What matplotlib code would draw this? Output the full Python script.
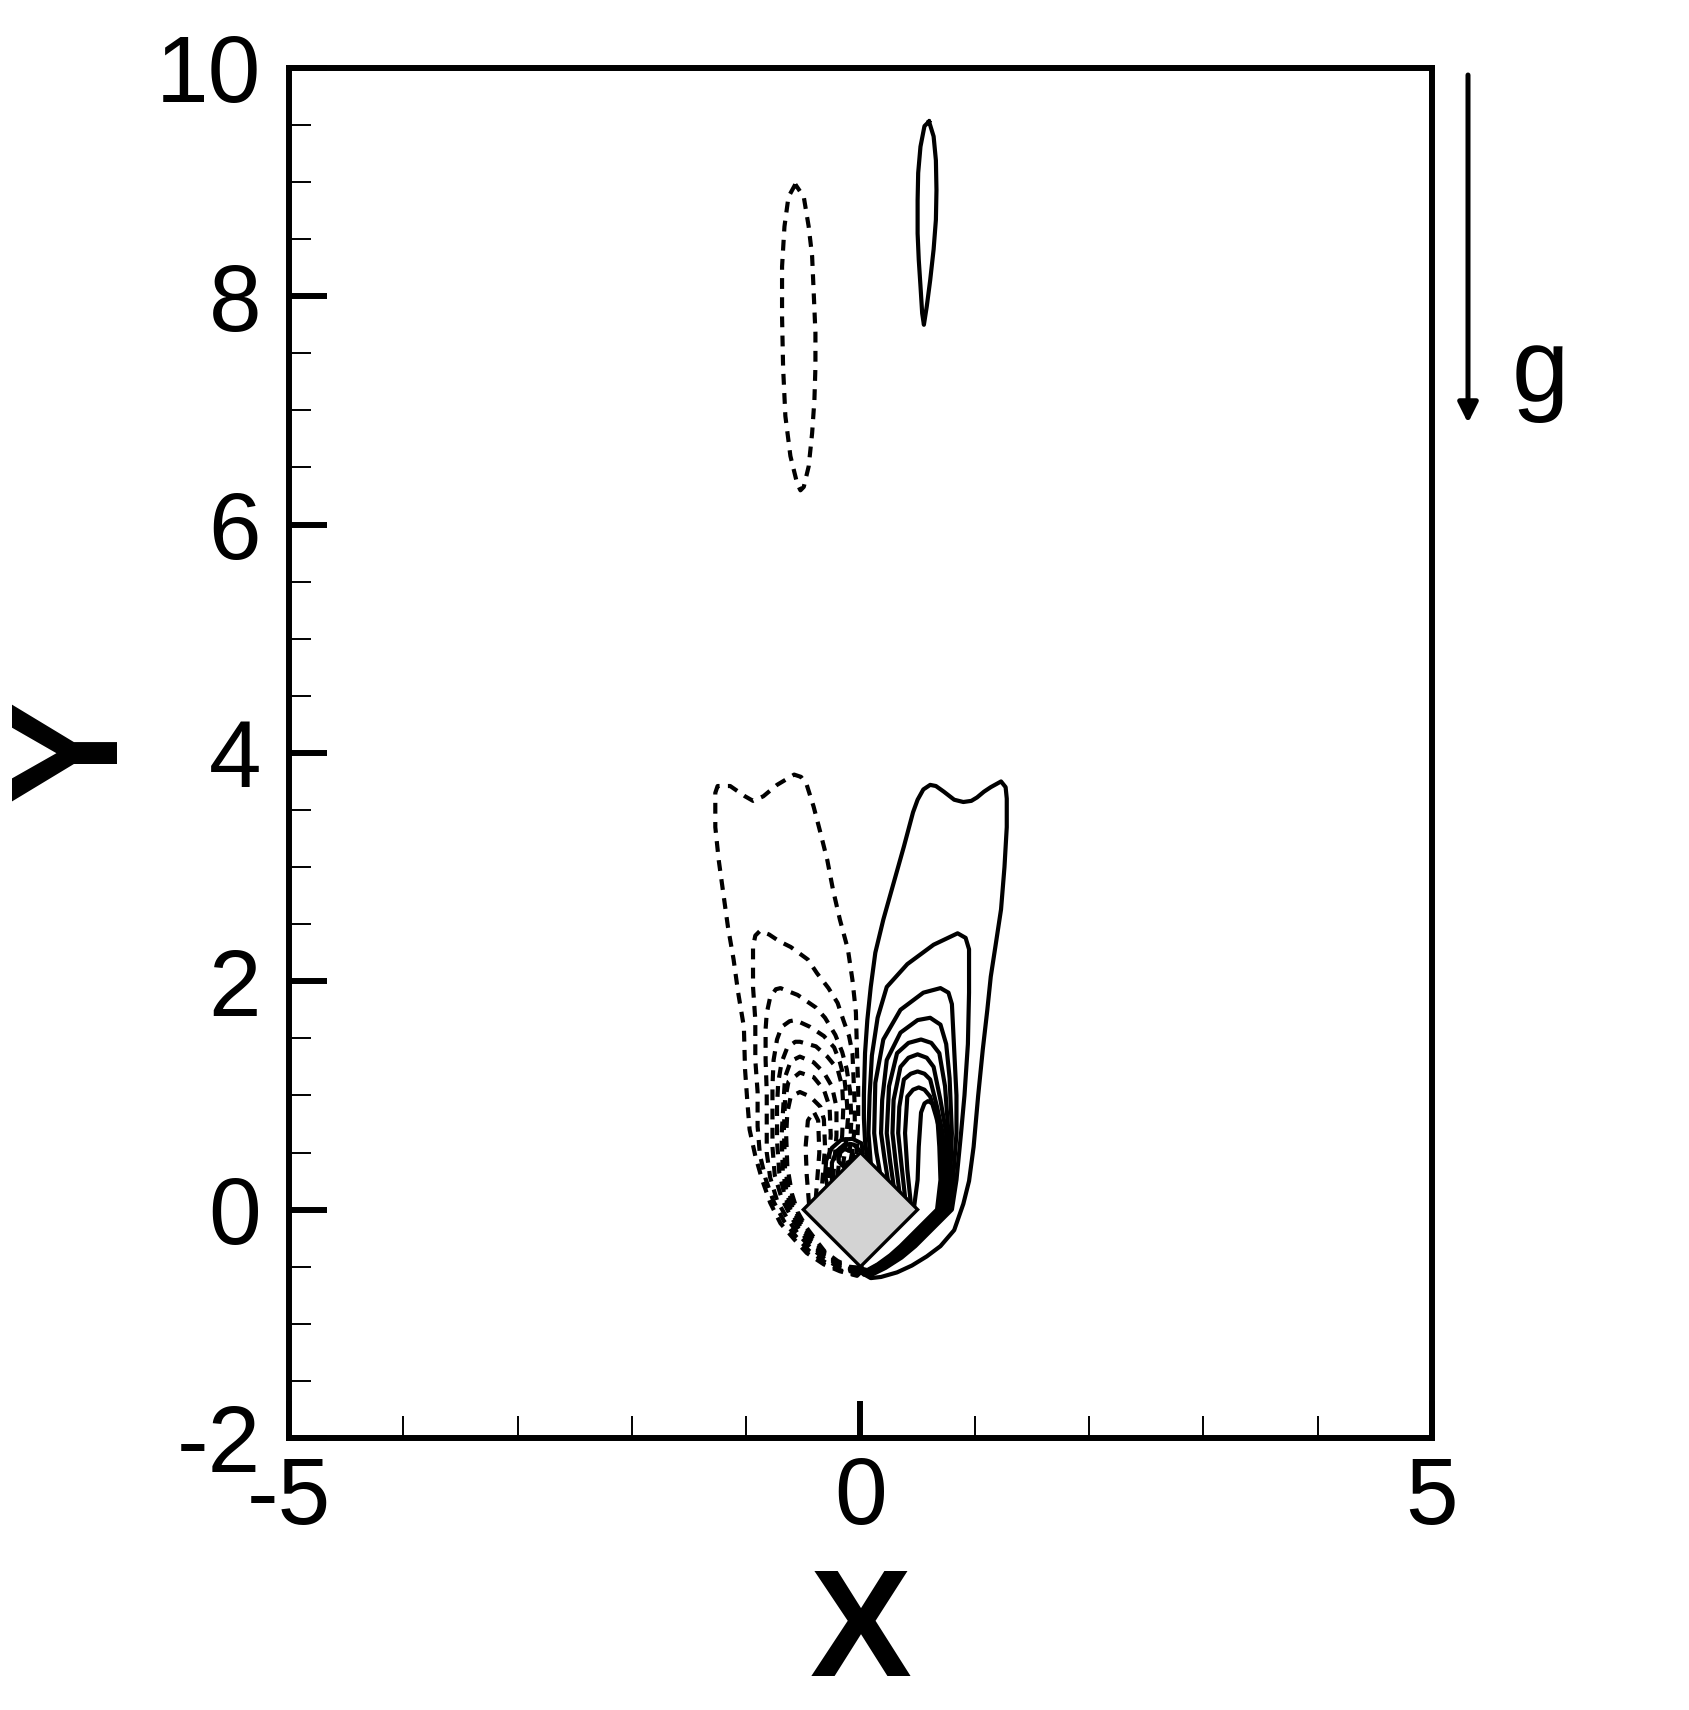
import matplotlib
matplotlib.use('Agg')
import matplotlib.pyplot as plt
from matplotlib.patches import Polygon
from matplotlib.ticker import MultipleLocator
import numpy as np

plt.rcParams['font.family'] = ['Liberation Sans', 'DejaVu Sans']
plt.rcParams['axes.unicode_minus'] = False

################## Contour lines (x, y) ########################################

# positive vorticity (solid lines)
solid_top = [(0.60, 9.53), (0.64, 9.40), (0.66, 9.19), (0.665, 8.93), (0.66, 8.67),
             (0.64, 8.41), (0.61, 8.14), (0.58, 7.91), (0.555, 7.75), (0.54, 7.85),
             (0.525, 8.09), (0.51, 8.32), (0.50, 8.55), (0.50, 8.84), (0.505, 9.08),
             (0.525, 9.31), (0.56, 9.49), (0.60, 9.53)]

solid_1 = [(0.06, 0.44), (0.04, 0.60), (0.03, 0.80), (0.03, 1.00), (0.04, 1.37), (0.06, 1.66),
           (0.09, 1.95), (0.13, 2.25), (0.20, 2.54), (0.29, 2.86), (0.38, 3.18), (0.46, 3.48),
           (0.50, 3.59), (0.55, 3.68), (0.61, 3.72), (0.66, 3.71), (0.73, 3.66), (0.82, 3.59),
           (0.90, 3.57), (0.97, 3.58), (1.02, 3.61), (1.08, 3.66), (1.14, 3.70), (1.23, 3.75),
           (1.27, 3.70), (1.28, 3.60), (1.28, 3.35), (1.26, 3.00), (1.23, 2.63), (1.18, 2.30),
           (1.14, 2.04), (1.11, 1.75), (1.07, 1.40), (1.03, 1.00), (0.99, 0.55), (0.95, 0.25),
           (0.90, 0.05), (0.82, -0.18), (0.70, -0.32), (0.58, -0.41), (0.45, -0.49),
           (0.32, -0.55), (0.18, -0.59), (0.09, -0.60), (0.02, -0.56)]

solid_2 = [(0.09, 0.41), (0.07, 0.67), (0.08, 1.00), (0.10, 1.35), (0.15, 1.68), (0.23, 1.95),
           (0.41, 2.15), (0.64, 2.32), (0.85, 2.42), (0.92, 2.38), (0.95, 2.28), (0.95, 1.90),
           (0.94, 1.45), (0.91, 1.00), (0.88, 0.67), (0.84, 0.26), (0.80, 0.0), (0.60, -0.20),
           (0.48, -0.32), (0.36, -0.42), (0.22, -0.51), (0.10, -0.57), (0.03, -0.57), (0.01, -0.53)]

solid_3 = [(0.17, 0.33), (0.14, 0.50), (0.12, 0.67), (0.13, 1.11), (0.20, 1.49), (0.35, 1.75),
           (0.55, 1.90), (0.70, 1.94), (0.77, 1.90), (0.80, 1.80), (0.82, 1.40), (0.84, 1.00),
           (0.84, 0.67), (0.81, 0.26), (0.77, 0.0), (0.57, -0.20), (0.45, -0.32), (0.34, -0.42),
           (0.21, -0.51), (0.09, -0.56), (0.03, -0.56), (0.01, -0.53)]

solid_4 = [(0.24, 0.26), (0.21, 0.45), (0.18, 0.67), (0.19, 0.96), (0.23, 1.31), (0.35, 1.55),
           (0.50, 1.66), (0.61, 1.68), (0.70, 1.62), (0.75, 1.45), (0.78, 1.15), (0.80, 0.67),
           (0.785, 0.26), (0.75, 0.0), (0.55, -0.20), (0.43, -0.32), (0.32, -0.42), (0.20, -0.50),
           (0.09, -0.55), (0.03, -0.55), (0.01, -0.52)]

solid_5 = [(0.29, 0.21), (0.26, 0.42), (0.23, 0.67), (0.25, 1.08), (0.32, 1.37), (0.42, 1.46),
           (0.53, 1.49), (0.62, 1.46), (0.69, 1.37), (0.74, 1.08), (0.77, 0.67), (0.77, 0.26),
           (0.735, 0.0), (0.535, -0.20), (0.415, -0.32), (0.31, -0.42), (0.19, -0.50),
           (0.08, -0.55), (0.02, -0.55), (0.01, -0.52)]

solid_6 = [(0.34, 0.16), (0.31, 0.40), (0.28, 0.67), (0.29, 0.96), (0.35, 1.25), (0.42, 1.33),
           (0.50, 1.36), (0.58, 1.33), (0.64, 1.25), (0.70, 0.96), (0.75, 0.67), (0.755, 0.26),
           (0.72, 0.0), (0.52, -0.20), (0.40, -0.32), (0.30, -0.41), (0.18, -0.49),
           (0.08, -0.54), (0.02, -0.54), (0.01, -0.52)]

solid_7 = [(0.39, 0.11), (0.36, 0.38), (0.33, 0.67), (0.34, 0.90), (0.38, 1.14), (0.44, 1.19),
           (0.50, 1.21), (0.56, 1.19), (0.61, 1.14), (0.67, 0.90), (0.72, 0.67), (0.74, 0.26),
           (0.705, 0.0), (0.505, -0.20), (0.385, -0.32), (0.29, -0.41), (0.17, -0.49),
           (0.07, -0.54), (0.02, -0.54), (0.01, -0.51)]

solid_8 = [(0.44, 0.06), (0.41, 0.35), (0.39, 0.67), (0.41, 0.99), (0.46, 1.05), (0.51, 1.07),
           (0.56, 1.05), (0.61, 0.99), (0.66, 0.82), (0.70, 0.67), (0.725, 0.26), (0.69, 0.0),
           (0.49, -0.20), (0.37, -0.32), (0.28, -0.40), (0.16, -0.48), (0.07, -0.53),
           (0.02, -0.53), (0.01, -0.51)]

solid_9 = [(0.47, 0.03), (0.50, 0.26), (0.51, 0.55), (0.53, 0.85), (0.56, 0.93), (0.59, 0.95),
           (0.63, 0.93), (0.67, 0.85), (0.69, 0.55), (0.70, 0.26), (0.67, 0.0), (0.47, -0.20),
           (0.35, -0.32), (0.26, -0.40), (0.15, -0.48), (0.06, -0.53), (0.02, -0.52), (0.01, -0.51)]

solid_arc_1 = [(0.02, 0.50), (0.01, 0.58), (-0.07, 0.62), (-0.17, 0.61), (-0.25, 0.54),
               (-0.30, 0.43), (-0.31, 0.30), (-0.29, 0.21)]
solid_arc_2 = [(0.00, 0.51), (-0.06, 0.57), (-0.14, 0.57), (-0.21, 0.51), (-0.25, 0.41),
               (-0.25, 0.25)]
solid_arc_3 = [(-0.05, 0.45), (-0.08, 0.51), (-0.14, 0.53), (-0.19, 0.49), (-0.19, 0.42),
               (-0.14, 0.37), (-0.10, 0.42), (-0.05, 0.45)]

# negative vorticity (dashed lines)
dashed_top = [(-0.57, 8.98), (-0.63, 8.87), (-0.665, 8.61), (-0.686, 8.26), (-0.686, 7.82),
              (-0.677, 7.38), (-0.657, 6.95), (-0.613, 6.60), (-0.554, 6.36), (-0.525, 6.30),
              (-0.496, 6.33), (-0.453, 6.51), (-0.423, 6.80), (-0.403, 7.09), (-0.394, 7.38),
              (-0.394, 7.68), (-0.409, 8.03), (-0.423, 8.35), (-0.453, 8.61), (-0.496, 8.87),
              (-0.57, 8.98)]

dashed_1 = [(0.00, -0.55), (-0.03, -0.58), (-0.18, -0.54), (-0.32, -0.48), (-0.47, -0.38),
            (-0.58, -0.26), (-0.70, -0.12), (-0.79, 0.06), (-0.86, 0.26), (-0.92, 0.47),
            (-0.97, 0.70), (-0.99, 0.95), (-1.01, 1.23), (-1.02, 1.60), (-1.07, 1.90),
            (-1.11, 2.19), (-1.16, 2.48), (-1.20, 2.77), (-1.24, 3.06), (-1.27, 3.35),
            (-1.27, 3.65), (-1.25, 3.71), (-1.14, 3.71), (-1.01, 3.62), (-0.94, 3.58),
            (-0.85, 3.62), (-0.73, 3.72), (-0.58, 3.81), (-0.52, 3.79), (-0.47, 3.72),
            (-0.41, 3.53), (-0.35, 3.30), (-0.29, 3.06), (-0.24, 2.80), (-0.18, 2.54),
            (-0.11, 2.28), (-0.07, 2.01), (-0.04, 1.73), (-0.03, 1.37), (-0.02, 1.08),
            (-0.02, 0.79), (-0.03, 0.55), (-0.04, 0.46)]

dashed_2 = [(0.00, -0.54), (-0.05, -0.57), (-0.18, -0.53), (-0.31, -0.46), (-0.45, -0.36),
            (-0.56, -0.24), (-0.67, -0.10), (-0.76, 0.07), (-0.83, 0.27), (-0.88, 0.48),
            (-0.90, 0.73), (-0.90, 1.03), (-0.92, 1.31), (-0.92, 1.66), (-0.94, 1.95),
            (-0.94, 2.30), (-0.92, 2.40), (-0.88, 2.44), (-0.80, 2.41), (-0.71, 2.35),
            (-0.61, 2.30), (-0.46, 2.19), (-0.38, 2.07), (-0.28, 1.94), (-0.20, 1.81),
            (-0.15, 1.66), (-0.10, 1.52), (-0.07, 1.37), (-0.06, 1.14), (-0.05, 0.90),
            (-0.05, 0.73), (-0.07, 0.52), (-0.09, 0.41)]

dashed_3 = [(-0.01, -0.53), (-0.06, -0.55), (-0.18, -0.51), (-0.30, -0.44), (-0.43, -0.34),
            (-0.54, -0.22), (-0.64, -0.08), (-0.73, 0.08), (-0.79, 0.28), (-0.82, 0.50),
            (-0.82, 0.73), (-0.82, 1.03), (-0.83, 1.31), (-0.83, 1.58), (-0.82, 1.72),
            (-0.79, 1.86), (-0.74, 1.93), (-0.70, 1.94), (-0.55, 1.88), (-0.39, 1.77),
            (-0.31, 1.68), (-0.22, 1.53), (-0.16, 1.38), (-0.12, 1.23), (-0.09, 1.03),
            (-0.08, 0.79), (-0.09, 0.55), (-0.12, 0.38)]

dashed_4 = [(-0.01, -0.53), (-0.07, -0.54), (-0.19, -0.49), (-0.30, -0.42), (-0.42, -0.32),
            (-0.52, -0.20), (-0.61, -0.06), (-0.69, 0.10), (-0.75, 0.30), (-0.77, 0.55),
            (-0.77, 0.79), (-0.77, 1.08), (-0.76, 1.31), (-0.73, 1.49), (-0.69, 1.60),
            (-0.62, 1.65), (-0.57, 1.66), (-0.44, 1.60), (-0.32, 1.52), (-0.23, 1.42),
            (-0.18, 1.29), (-0.14, 1.14), (-0.12, 0.96), (-0.11, 0.79), (-0.13, 0.55),
            (-0.16, 0.34)]

dashed_5 = [(-0.01, -0.52), (-0.08, -0.53), (-0.19, -0.48), (-0.30, -0.41), (-0.41, -0.31),
            (-0.50, -0.19), (-0.59, -0.05), (-0.66, 0.11), (-0.71, 0.32), (-0.73, 0.60),
            (-0.73, 0.90), (-0.72, 1.11), (-0.69, 1.29), (-0.64, 1.42), (-0.57, 1.47),
            (-0.53, 1.47), (-0.39, 1.43), (-0.29, 1.34), (-0.20, 1.23), (-0.16, 1.08),
            (-0.15, 0.90), (-0.16, 0.65), (-0.20, 0.30)]

dashed_6 = [(-0.01, -0.52), (-0.09, -0.52), (-0.20, -0.47), (-0.30, -0.40), (-0.40, -0.30),
            (-0.49, -0.18), (-0.57, -0.04), (-0.64, 0.12), (-0.68, 0.34), (-0.69, 0.65),
            (-0.67, 0.99), (-0.66, 1.16), (-0.61, 1.30), (-0.53, 1.34), (-0.41, 1.29),
            (-0.32, 1.20), (-0.25, 1.08), (-0.21, 0.90), (-0.21, 0.65), (-0.24, 0.26)]

dashed_7 = [(-0.01, -0.51), (-0.10, -0.51), (-0.20, -0.46), (-0.30, -0.39), (-0.39, -0.29),
            (-0.48, -0.17), (-0.56, -0.03), (-0.62, 0.13), (-0.66, 0.36), (-0.67, 0.70),
            (-0.66, 0.96), (-0.63, 1.12), (-0.53, 1.20), (-0.41, 1.16), (-0.32, 1.05),
            (-0.27, 0.90), (-0.26, 0.65), (-0.29, 0.21)]

dashed_8 = [(-0.01, -0.51), (-0.10, -0.50), (-0.20, -0.45), (-0.31, -0.37), (-0.38, -0.28),
            (-0.47, -0.16), (-0.55, -0.02), (-0.60, 0.14), (-0.64, 0.38), (-0.65, 0.65),
            (-0.64, 0.85), (-0.61, 0.99), (-0.53, 1.03), (-0.44, 0.99), (-0.35, 0.90),
            (-0.32, 0.79), (-0.31, 0.55), (-0.34, 0.16)]

dashed_9 = [(-0.45, 0.05), (-0.47, 0.30), (-0.48, 0.55), (-0.46, 0.78), (-0.41, 0.86),
            (-0.37, 0.78), (-0.36, 0.50), (-0.39, 0.11)]

# square cylinder (diamond)
cyl_x = [0.0, 0.5, 0.0, -0.5]
cyl_y = [0.5, 0.0, -0.5, 0.0]

xticks = [-5, 0, 5]
xtick_labels = ['-5', '0', '5']
yticks = [-2, 0, 2, 4, 6, 8, 10]
ytick_labels = ['-2', '0', '2', '4', '6', '8', '10']

################## Figure ######################################################

fig = plt.figure(figsize=(16.9, 17.1), dpi=100)
ax = fig.add_axes([0.1710, 0.1591, 0.6763, 0.8012])

solid_lines = [solid_top, solid_1, solid_2, solid_3, solid_4, solid_5, solid_6,
               solid_7, solid_8, solid_9, solid_arc_1, solid_arc_2, solid_arc_3]
dashed_lines = [dashed_top, dashed_1, dashed_2, dashed_3, dashed_4, dashed_5,
                dashed_6, dashed_7, dashed_8, dashed_9]

for line in solid_lines:
    xy = np.array(line)
    ax.plot(xy[:, 0], xy[:, 1], color='k', lw=3.0, zorder=2,
            solid_joinstyle='round')
for line in dashed_lines:
    xy = np.array(line)
    ax.plot(xy[:, 0], xy[:, 1], color='k', lw=3.0, ls=(0, (2.6, 2.0)), zorder=2)

ax.add_patch(Polygon(list(zip(cyl_x, cyl_y)), closed=True, facecolor='#d3d3d3',
                     edgecolor='k', lw=2.4, zorder=3))

ax.set_xlim(-5, 5)
ax.set_ylim(-2, 10)
ax.set_xticks(xticks)
ax.set_xticklabels(xtick_labels)
ax.set_yticks(yticks)
ax.set_yticklabels(ytick_labels)
ax.xaxis.set_minor_locator(MultipleLocator(1))
ax.yaxis.set_minor_locator(MultipleLocator(0.5))

ax.tick_params(which='both', direction='in', top=False, right=False)
ax.tick_params(which='major', length=27, width=4.3, labelsize=68)
ax.tick_params(which='minor', length=16, width=1.4)
ax.tick_params(axis='x', which='major', pad=12)
ax.tick_params(axis='y', which='major', pad=20)
for sp in ax.spines.values():
    sp.set_linewidth(4.3)

fig.text(861 / 1690, 2 / 1710, 'X', ha='center', va='bottom',
         fontsize=110, fontweight='bold')
fig.text(76 / 1690, 1 - 750 / 1710, 'Y', rotation=90, ha='center', va='center',
         fontsize=110, fontweight='bold')

##################### gravity arrow ############################################
ax.annotate('', xy=(1468 / 1690, 1 - 423 / 1710), xytext=(1468 / 1690, 1 - 75 / 1710),
            xycoords='figure fraction', textcoords='figure fraction',
            arrowprops=dict(arrowstyle='-|>', lw=3.6, color='k', mutation_scale=30,
                            shrinkA=0, shrinkB=0))
fig.text(1512 / 1690, 1 - 401 / 1710, 'g', ha='left', va='baseline', fontsize=74)

fig.savefig('out.png', dpi=100)
